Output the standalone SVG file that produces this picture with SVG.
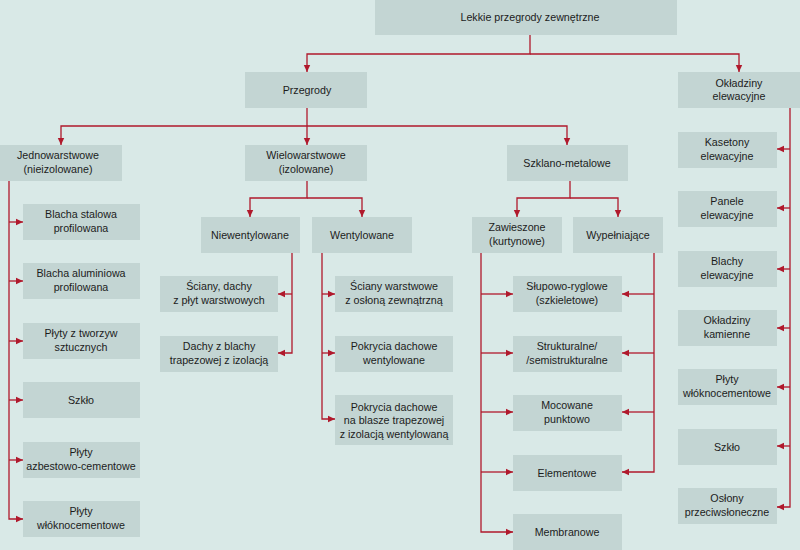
<svg xmlns="http://www.w3.org/2000/svg" width="800" height="550" viewBox="0 0 800 550">
<defs>
<style>
.b{fill:#c3d5d3}
.t{font-family:"Liberation Sans",Arial,sans-serif;font-size:10.7px;fill:#1c1c1c;text-anchor:middle}
.c{fill:none;stroke:#b0192c;stroke-width:1.3}
</style>
<marker id="a" markerUnits="userSpaceOnUse" markerWidth="8" markerHeight="8" refX="7" refY="4" orient="auto">
<path d="M0,0.8 L7,4 L0,7.2 Z" fill="#b0192c"/>
</marker>
</defs>
<rect width="800" height="550" fill="#d9e9e7"/>
<g id="connectors" class="c" marker-end="url(#a)">
<path d="M530,35 V54 H307 V72"/>
<path d="M530,54 H739 V72"/>
<path d="M307,108 V145"/>
<path d="M307,126 H61 V145"/>
<path d="M307,126 H567 V145"/>
<path d="M9,181 V519 H23"/>
<path d="M9,222 H23"/>
<path d="M9,281 H23"/>
<path d="M9,341 H23"/>
<path d="M9,400 H23"/>
<path d="M9,460 H23"/>
<path d="M790,108 V507 H777"/>
<path d="M790,149 H777"/>
<path d="M790,208 H777"/>
<path d="M790,269 H777"/>
<path d="M790,328 H777"/>
<path d="M790,387 H777"/>
<path d="M790,446 H777"/>
<path d="M307,181 V198 H250 V217"/>
<path d="M307,198 H362 V217"/>
<path d="M292,253 V353 H278"/>
<path d="M292,294 H278"/>
<path d="M322,253 V419 H335"/>
<path d="M322,294 H335"/>
<path d="M322,353 H335"/>
<path d="M570,181 V198 H517 V217"/>
<path d="M570,198 H618 V217"/>
<path d="M481,253 V532 H513"/>
<path d="M481,294 H513"/>
<path d="M481,353 H513"/>
<path d="M481,412 H513"/>
<path d="M481,472 H513"/>
<path d="M654,253 V472 H622"/>
<path d="M654,294 H622"/>
<path d="M654,353 H622"/>
<path d="M654,412 H622"/>
</g>
<g id="root"><rect class="b" x="375" y="0" width="302" height="35"/><text class="t" x="530" y="21">Lekkie przegrody zewnętrzne</text></g>
<g id="przegrody"><rect class="b" x="245" y="72" width="122" height="36"/><text class="t" x="307" y="94">Przegrody</text></g>
<g id="okladziny"><rect class="b" x="678" y="72" width="122" height="36"/><text class="t" x="739" y="87">Okładziny</text><text class="t" x="739" y="100">elewacyjne</text></g>
<g id="jednowarstwowe"><rect class="b" x="0" y="145" width="122" height="36"/><text class="t" x="58" y="159">Jednowarstwowe</text><text class="t" x="58" y="172.5">(nieizolowane)</text></g>
<g id="wielowarstwowe"><rect class="b" x="245" y="145" width="122" height="36"/><text class="t" x="306" y="159">Wielowarstwowe</text><text class="t" x="306" y="172.5">(izolowane)</text></g>
<g id="szklano"><rect class="b" x="507" y="145" width="121" height="36"/><text class="t" x="567" y="167">Szklano-metalowe</text></g>
<g id="blacha-stalowa"><rect class="b" x="23" y="204" width="117" height="36"/><text class="t" x="81" y="218">Blacha stalowa</text><text class="t" x="81" y="231.5">profilowana</text></g>
<g id="blacha-alu"><rect class="b" x="23" y="263" width="117" height="36"/><text class="t" x="81" y="277">Blacha aluminiowa</text><text class="t" x="81" y="290.5">profilowana</text></g>
<g id="plyty-tworzyw"><rect class="b" x="23" y="323" width="117" height="36"/><text class="t" x="81" y="337">Płyty z tworzyw</text><text class="t" x="81" y="350.5">sztucznych</text></g>
<g id="szklo-l"><rect class="b" x="23" y="382" width="117" height="36"/><text class="t" x="81" y="404">Szkło</text></g>
<g id="plyty-azb"><rect class="b" x="23" y="442" width="117" height="36"/><text class="t" x="81" y="456">Płyty</text><text class="t" x="81" y="469.5">azbestowo-cementowe</text></g>
<g id="plyty-wlok-l"><rect class="b" x="23" y="501" width="117" height="36"/><text class="t" x="81" y="515">Płyty</text><text class="t" x="81" y="528.5">włóknocementowe</text></g>
<g id="niewentylowane"><rect class="b" x="201" y="217" width="99" height="36"/><text class="t" x="250" y="239">Niewentylowane</text></g>
<g id="wentylowane"><rect class="b" x="312" y="217" width="100" height="36"/><text class="t" x="362" y="239">Wentylowane</text></g>
<g id="sciany-dachy"><rect class="b" x="160" y="276" width="118" height="36"/><text class="t" x="219" y="290">Ściany, dachy</text><text class="t" x="219" y="303.5">z płyt warstwowych</text></g>
<g id="dachy-blachy"><rect class="b" x="160" y="336" width="118" height="36"/><text class="t" x="219" y="350">Dachy z blachy</text><text class="t" x="219" y="363.5">trapezowej z izolacją</text></g>
<g id="sciany-warstwowe"><rect class="b" x="335" y="276" width="118" height="36"/><text class="t" x="394" y="290">Ściany warstwowe</text><text class="t" x="394" y="303.5">z osłoną zewnątrzną</text></g>
<g id="pokrycia-went"><rect class="b" x="335" y="336" width="118" height="36"/><text class="t" x="394" y="350">Pokrycia dachowe</text><text class="t" x="394" y="363.5">wentylowane</text></g>
<g id="pokrycia-blasze"><rect class="b" x="335" y="395" width="118" height="50"/><text class="t" x="394" y="410.5">Pokrycia dachowe</text><text class="t" x="394" y="424">na blasze trapezowej</text><text class="t" x="394" y="437.5">z izolacją wentylowaną</text></g>
<g id="zawieszone"><rect class="b" x="472" y="217" width="90" height="36"/><text class="t" x="517" y="231">Zawieszone</text><text class="t" x="517" y="244.5">(kurtynowe)</text></g>
<g id="wypelniajace"><rect class="b" x="573" y="217" width="90" height="36"/><text class="t" x="618" y="239">Wypełniające</text></g>
<g id="slupowo"><rect class="b" x="513" y="276" width="109" height="36"/><text class="t" x="567" y="290">Słupowo-ryglowe</text><text class="t" x="567" y="303.5">(szkieletowe)</text></g>
<g id="strukturalne"><rect class="b" x="513" y="336" width="109" height="36"/><text class="t" x="567" y="350">Strukturalne/</text><text class="t" x="567" y="363.5">/semistrukturalne</text></g>
<g id="mocowane"><rect class="b" x="513" y="395" width="109" height="36"/><text class="t" x="567" y="409">Mocowane</text><text class="t" x="567" y="422.5">punktowo</text></g>
<g id="elementowe"><rect class="b" x="513" y="455" width="109" height="36"/><text class="t" x="567" y="477">Elementowe</text></g>
<g id="membranowe"><rect class="b" x="513" y="514" width="109" height="40"/><text class="t" x="567" y="536">Membranowe</text></g>
<g id="kasetony"><rect class="b" x="678" y="132" width="99" height="36"/><text class="t" x="727" y="146">Kasetony</text><text class="t" x="727" y="159.5">elewacyjne</text></g>
<g id="panele"><rect class="b" x="678" y="191" width="99" height="36"/><text class="t" x="727" y="205">Panele</text><text class="t" x="727" y="218.5">elewacyjne</text></g>
<g id="blachy"><rect class="b" x="678" y="251" width="99" height="36"/><text class="t" x="727" y="265">Blachy</text><text class="t" x="727" y="278.5">elewacyjne</text></g>
<g id="okladziny-kam"><rect class="b" x="678" y="310" width="99" height="36"/><text class="t" x="727" y="324">Okładziny</text><text class="t" x="727" y="337.5">kamienne</text></g>
<g id="plyty-wlok-r"><rect class="b" x="678" y="369" width="99" height="36"/><text class="t" x="727" y="383">Płyty</text><text class="t" x="727" y="396.5">włóknocementowe</text></g>
<g id="szklo-r"><rect class="b" x="678" y="429" width="99" height="36"/><text class="t" x="727" y="451">Szkło</text></g>
<g id="oslony"><rect class="b" x="678" y="488" width="99" height="36"/><text class="t" x="727" y="502">Osłony</text><text class="t" x="727" y="515.5">przeciwsłoneczne</text></g>
</svg>
